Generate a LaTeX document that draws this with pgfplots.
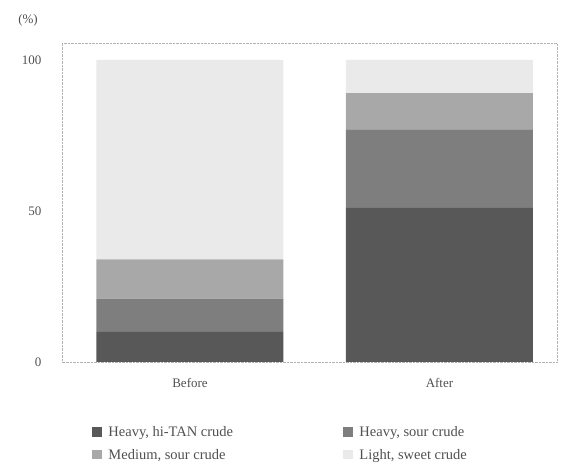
\documentclass[border=0pt]{standalone}
\usepackage{pgfplots}
\pgfplotsset{compat=1.18}
\usepackage{fontspec}
\setmainfont{Liberation Serif}
\definecolor{txt}{HTML}{505050}
\definecolor{hitan}{HTML}{585858}
\definecolor{hsour}{HTML}{7E7E7E}
\definecolor{msour}{HTML}{A8A8A8}
\definecolor{lsweet}{HTML}{EAEAEA}
\begin{document}
\begin{tikzpicture}
\useasboundingbox (0,0) rectangle (573pt,473pt);
\begin{axis}[
  at={(62pt,111pt)}, anchor=south west,
  scale only axis, width=495pt, height=319pt,
  ybar stacked, bar width=187pt,
  xmin=-0.513, xmax=1.471, ymin=0, ymax=105.6,
  xtick={0,1}, xticklabels={Before,After},
  ytick={0,50,100},
  major tick length=0pt,
  axis line style={gray!60, densely dotted},
  ticklabel style={font=\fontsize{13}{15}\selectfont, text=txt},
  /pgf/number format/assume math mode=true,
  yticklabel style={xshift=-17pt},
  xticklabel style={yshift=-13pt},
  legend columns=2,
  legend cell align=left,
  legend style={draw=none, fill=none, at={(0.055,-0.19)}, anchor=north west,
    font=\fontsize{14.5}{16}\selectfont, text=txt, row sep=7pt,
    /tikz/every odd column/.append style={column sep=4pt}},
  legend image code/.code={\fill[#1] (0pt,-4pt) rectangle (10pt,5.5pt);},
]
\addplot[fill=hitan, draw=none] coordinates {(0,10) (1,51)};
\addplot[fill=hsour, draw=none] coordinates {(0,11) (1,26)};
\addplot[fill=msour, draw=none] coordinates {(0,13) (1,12)};
\addplot[fill=lsweet, draw=none] coordinates {(0,66) (1,11)};
\legend{{\makebox[233pt][l]{Heavy, hi-TAN crude}},{Heavy, sour crude},{Medium, sour crude},{Light, sweet crude}}
\end{axis}
\node[text=txt, font=\fontsize{13}{15}\selectfont] at (28pt,453pt) {(\%)};
\end{tikzpicture}
\end{document}
